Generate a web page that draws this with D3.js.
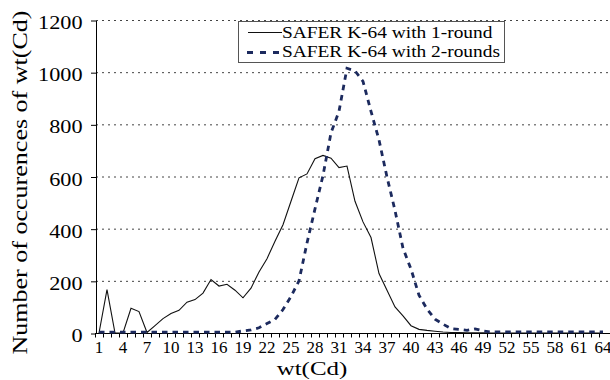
<!DOCTYPE html>
<html>
<head>
<meta charset="utf-8">
<script src="https://cdn.jsdelivr.net/npm/d3@7"></script>
<style>
body { margin: 0; background: #fff; }
svg { display: block; }
</style>
</head>
<body>
<div class="main"></div>
<script>
const width = 610;
const height = 380;
const margin = ({top: 20, right: 0, bottom: 47, left: 96});
const serif = 'Liberation Serif';

// wt(Cd) categories
const weights = [1, 2, 3, 4, 5, 6, 7, 8, 9, 10, 11, 12, 13, 14, 15, 16,
  17, 18, 19, 20, 21, 22, 23, 24, 25, 26, 27, 28, 29, 30, 31, 32,
  33, 34, 35, 36, 37, 38, 39, 40, 41, 42, 43, 44, 45, 46, 47, 48,
  49, 50, 51, 52, 53, 54, 55, 56, 57, 58, 59, 60, 61, 62, 63, 64];

// number of occurences, 1 round
const oneRound = [0, 166, 0, 0, 95, 82, 2, 28, 55, 75, 87, 118, 128, 153, 205, 180,
  187, 164, 135, 172, 234, 285, 352, 415, 505, 595, 610, 668, 681, 670, 634, 640,
  505, 426, 366, 228, 164, 100, 66, 28, 14, 10, 7, 4, 2, 2, 1, 1,
  1, 0, 0, 0, 0, 0, 0, 0, 0, 0, 0, 0, 0, 0, 0, 0];

// number of occurences, 2 rounds
const twoRounds = [3, 3, 3, 3, 3, 3, 3, 3, 3, 3, 3, 3, 3, 3, 3, 3,
  3, 3, 8, 12, 20, 36, 52, 90, 140, 200, 345, 476, 604, 767, 850, 1015,
  1005, 965, 850, 740, 598, 470, 325, 245, 145, 92, 53, 34, 17, 14, 10, 16,
  8, 4, 4, 4, 4, 4, 4, 4, 4, 4, 4, 4, 4, 4, 4, 4];

const xTickLabels = [1, 4, 7, 10, 13, 16, 19, 22, 25, 28, 31, 34, 37, 40, 43, 46, 49, 52, 55, 58, 61, 64];
const yTicks = [0, 200, 400, 600, 800, 1000, 1200];
const seriesNames = ['SAFER K-64 with 1-round', 'SAFER K-64 with 2-rounds'];

const svg = d3.select('.main')
  .append('svg')
  .attr('width', width)
  .attr('height', height)
  .attr('font-family', serif);

const x = d3.scaleBand()
  .domain(weights)
  .range([95, 607]);

const y = d3.scaleLinear()
  .domain([0, 1200])
  .range([height - margin.bottom, margin.top]);

const cx = d => x(d) + x.bandwidth() / 2;

// dotted gridlines
svg.append('g')
  .selectAll('line')
  .data(yTicks.filter(d => d > 0))
  .enter()
  .append('line')
  .attr('x1', margin.left)
  .attr('x2', width)
  .attr('y1', d => y(d) + 0.5)
  .attr('y2', d => y(d) + 0.5)
  .attr('stroke', '#444')
  .attr('stroke-dasharray', '2,4');

// y axis
const yAxis = svg.append('g')
  .attr('transform', `translate(${margin.left},0.5)`)
  .call(d3.axisLeft(y).tickValues(yTicks).tickFormat(d3.format('d')).tickSize(5).tickSizeOuter(0));
yAxis.attr('font-family', serif).attr('font-size', null);
yAxis.selectAll('path, line').attr('stroke', '#000');
yAxis.selectAll('text')
  .attr('x', null)
  .attr('dy', null)
  .attr('transform', 'translate(-13.5,8) scale(1.14,1)')
  .attr('font-family', serif)
  .style('font-size', '19.5px')
  .attr('fill', '#000');

// x axis
const xAxis = svg.append('g')
  .attr('transform', `translate(0,${y(0)})`);
xAxis.append('line')
  .attr('x1', margin.left)
  .attr('x2', width)
  .attr('y1', 0.5)
  .attr('y2', 0.5)
  .attr('stroke', '#000');
xAxis.selectAll('.tick')
  .data(weights)
  .enter()
  .append('line')
  .attr('x1', d => x(d) + 0.5)
  .attr('x2', d => x(d) + 0.5)
  .attr('y1', 0)
  .attr('y2', 4.5)
  .attr('stroke', '#000');
xAxis.selectAll('text')
  .data(xTickLabels)
  .enter()
  .append('text')
  .attr('x', d => cx(d))
  .attr('y', 20)
  .attr('text-anchor', 'middle')
  .attr('font-family', serif)
  .style('font-size', '17px')
  .text(d => d);

// axis titles
svg.append('text')
  .attr('transform', 'translate(312,375) scale(1.28,1)')
  .attr('text-anchor', 'middle')
  .attr('font-family', serif)
  .style('font-size', '19.5px')
  .text('wt(Cd)');

svg.append('text')
  .attr('transform', 'translate(26.5,182.5) rotate(-90) scale(1.24,1)')
  .attr('text-anchor', 'middle')
  .attr('font-family', serif)
  .style('font-size', '21px')
  .text('Number of occurences of wt(Cd)');

// series
const line = d3.line()
  .x((d, i) => cx(weights[i]))
  .y(d => y(d));

svg.append('path')
  .datum(oneRound)
  .attr('fill', 'none')
  .attr('stroke', '#111')
  .attr('stroke-width', 1.1)
  .attr('d', line);

svg.append('path')
  .datum(twoRounds)
  .attr('fill', 'none')
  .attr('stroke', '#1c2a5e')
  .attr('stroke-width', 2.8)
  .attr('stroke-dasharray', '5.5,5')
  .attr('d', line);

// legend
const legend = svg.append('g');
legend.append('rect')
  .attr('x', 238.5)
  .attr('y', 21.5)
  .attr('width', 266)
  .attr('height', 41)
  .attr('fill', '#fff')
  .attr('stroke', '#555');
legend.append('line')
  .attr('x1', 248).attr('x2', 282)
  .attr('y1', 32.5).attr('y2', 32.5)
  .attr('stroke', '#111')
  .attr('stroke-width', 1.1);
legend.append('line')
  .attr('x1', 247).attr('x2', 280)
  .attr('y1', 52.5).attr('y2', 52.5)
  .attr('stroke', '#1c2a5e')
  .attr('stroke-width', 2.8)
  .attr('stroke-dasharray', '6,7');
legend.selectAll('text')
  .data(seriesNames)
  .enter()
  .append('text')
  .attr('transform', (d, i) => `translate(282,${37.5 + i * 19}) scale(1.14,1)`)
  .attr('font-family', serif)
  .style('font-size', '17px')
  .text(d => d);
</script>
</body>
</html>
